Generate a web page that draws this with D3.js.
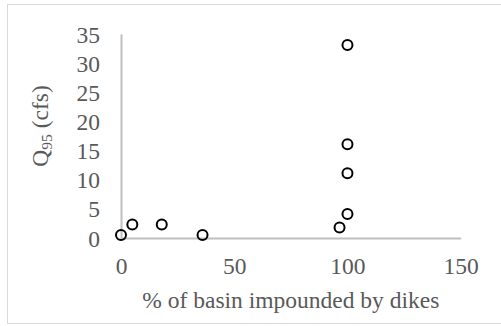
<!DOCTYPE html>
<html>
<head>
<meta charset="utf-8">
<script src="https://cdn.jsdelivr.net/npm/d3@7"></script>
<style>
  html, body { margin: 0; padding: 0; background: #fff; }
  svg { display: block; }
</style>
</head>
<body>
<script>
// Share of each basin impounded by dikes (%) and its Q95 flow (cfs)
const impounded = [0, 5, 18, 36, 96.5, 100, 100, 100, 100];
const q95 = [0.5, 2.3, 2.3, 0.5, 1.8, 4.1, 11.1, 16.1, 33.1];
const xTicks = [0, 50, 100, 150];
const yTicks = [0, 5, 10, 15, 20, 25, 30, 35];

const W = 501, H = 326;
const FONT = "Liberation Serif";
const FS = 23.5;
const axisColor = "#bfbfbf";
const textColor = "#595959";

const svg = d3.select("body").append("svg").attr("width", W).attr("height", H);

// Outer chart border
svg.append("rect")
  .attr("x", 7.5).attr("y", 4.5)
  .attr("width", 500).attr("height", 319)
  .attr("fill", "#fff").attr("stroke", "#d9d9d9").attr("stroke-width", 1);

const x = d3.scaleLinear().domain([0, 150]).range([121, 460.7]);
const y = d3.scaleLinear().domain([0, 35]).range([238, 34]);

// X axis
const gx = svg.append("g").attr("transform", `translate(0,${y(0)})`)
  .call(d3.axisBottom(x).tickValues(xTicks).tickSize(0).tickPadding(0).tickFormat(d3.format("d")));
gx.attr("font-family", FONT).attr("font-size", FS);
gx.select(".domain").attr("stroke", axisColor).attr("stroke-width", 2);
gx.selectAll("text").attr("dy", null).attr("y", 36).attr("fill", textColor);

// Y axis
const gy = svg.append("g").attr("transform", `translate(${x(0)},0)`)
  .call(d3.axisLeft(y).tickValues(yTicks).tickSize(0).tickPadding(0).tickFormat(d3.format("d")));
gy.attr("font-family", FONT).attr("font-size", FS);
gy.select(".domain").attr("stroke", axisColor).attr("stroke-width", 2);
gy.selectAll("text").attr("x", -21).attr("dy", "0.34em").attr("fill", textColor);

// Axis titles
svg.append("text")
  .attr("x", (x(0) + x(150)) / 2).attr("y", 308)
  .attr("text-anchor", "middle")
  .attr("fill", textColor)
  .attr("font-family", FONT).attr("font-size", FS)
  .text("% of basin impounded by dikes");

const yt = svg.append("text")
  .attr("transform", "translate(48,126) rotate(-90)")
  .attr("text-anchor", "middle")
  .attr("fill", textColor)
  .attr("font-family", FONT).attr("font-size", FS);
yt.append("tspan").text("Q");
yt.append("tspan").attr("dy", 4).attr("font-size", 15.5).text("95");
yt.append("tspan").attr("dy", -4).text(" (cfs)");

// Data points
svg.append("g").selectAll("circle")
  .data(impounded.map((v, i) => [v, q95[i]]))
  .join("circle")
  .attr("cx", d => x(d[0]))
  .attr("cy", d => y(d[1]))
  .attr("r", 5)
  .attr("fill", "none")
  .attr("stroke", "#000")
  .attr("stroke-width", 2);
</script>
</body>
</html>
